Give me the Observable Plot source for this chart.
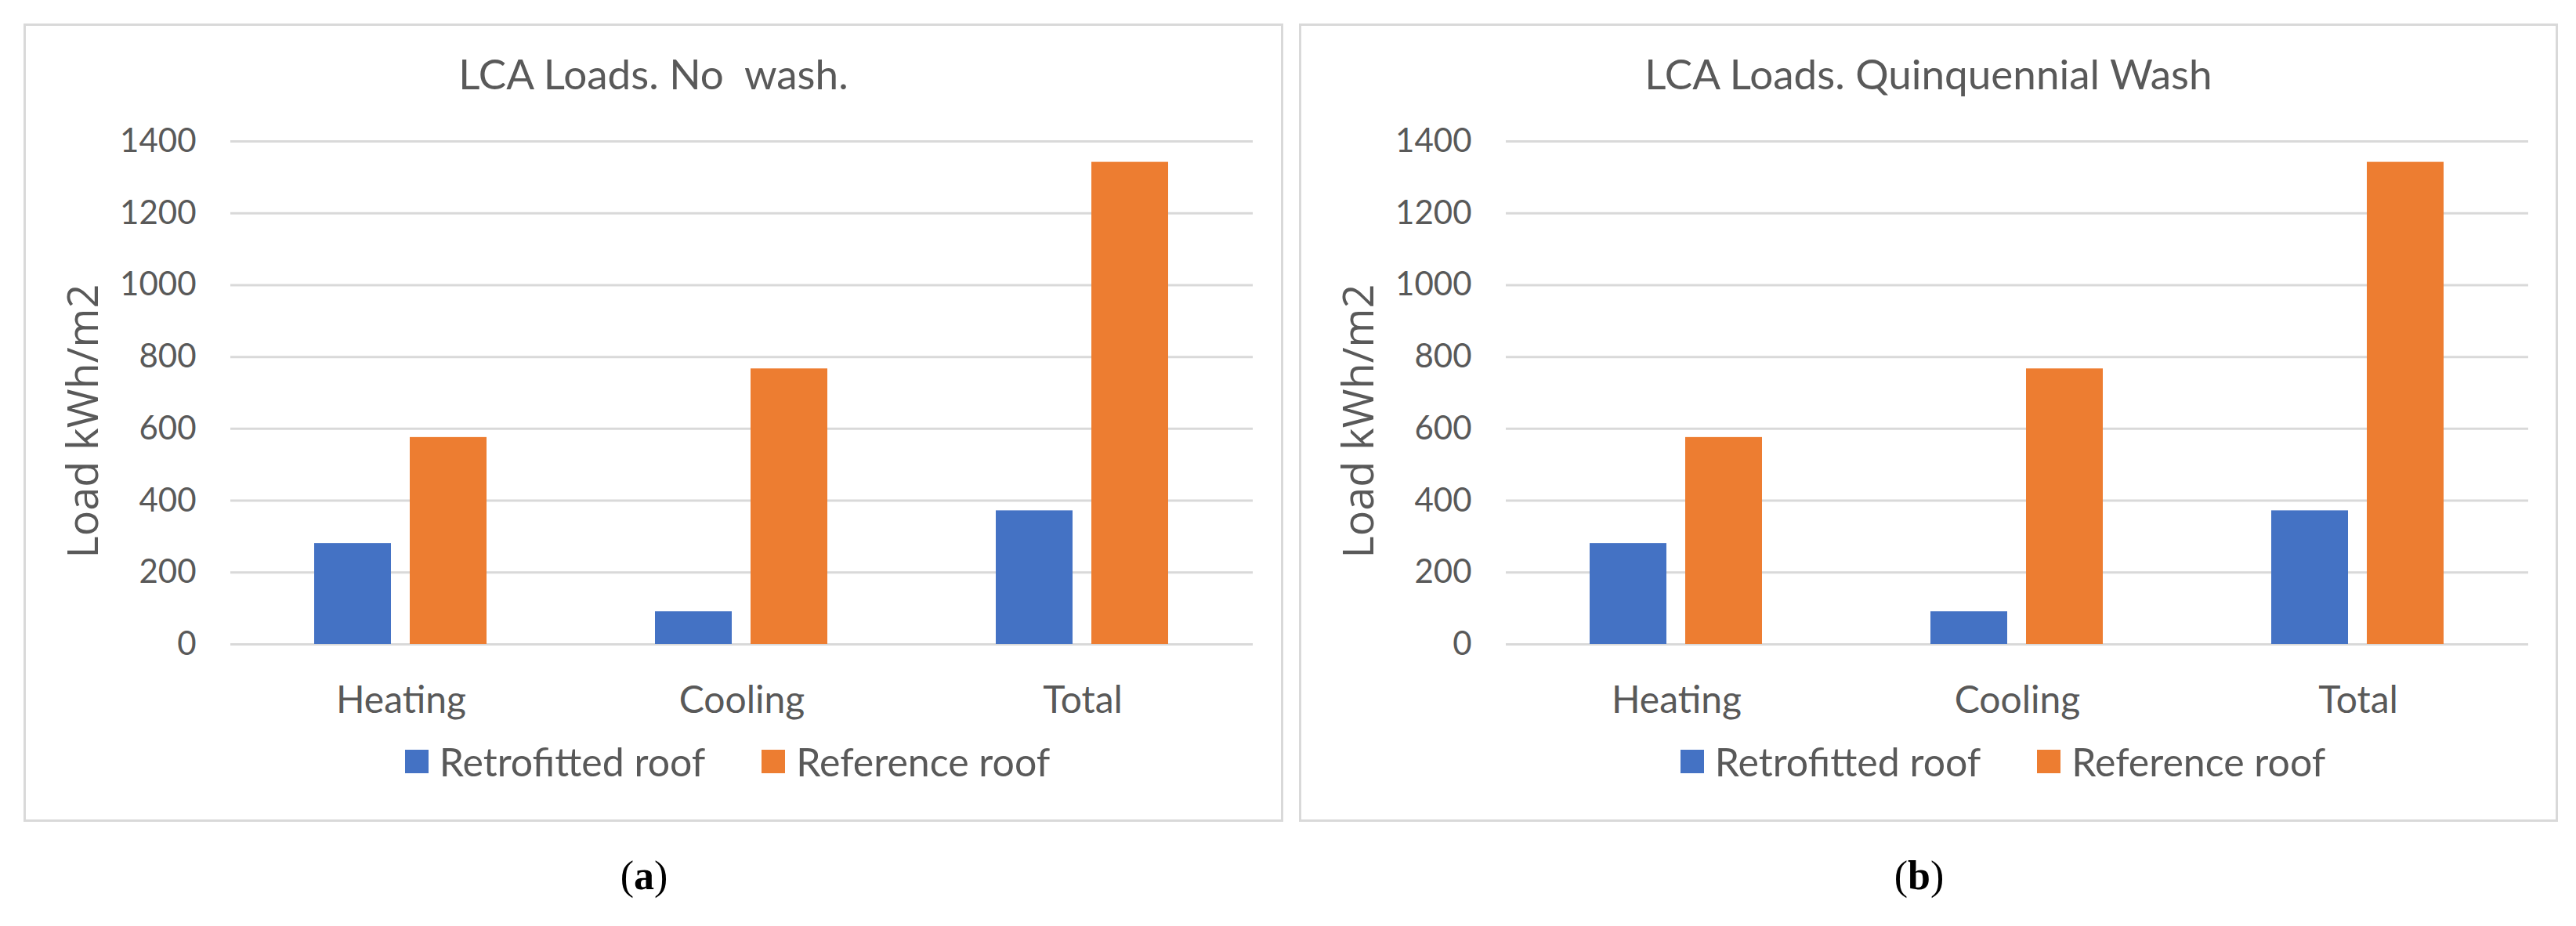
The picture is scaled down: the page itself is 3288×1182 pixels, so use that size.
<!DOCTYPE html>
<html><head><meta charset="utf-8">
<script src="https://cdn.jsdelivr.net/npm/d3@7"></script>
<script src="https://cdn.jsdelivr.net/npm/@observablehq/plot@0.6"></script>
<style>
html,body{margin:0;padding:0;background:#fff;width:3288px;height:1182px;overflow:hidden;position:relative}
.panel{position:absolute;top:30px;height:1019px;box-sizing:border-box;border:3px solid #d9d9d9;background:#fff}
.title{position:absolute;text-align:center;font-family:Lato;font-size:53px;line-height:53px;color:#595959;white-space:pre}
.chart{position:absolute;top:130px}
.legend{position:absolute;top:948px;height:48px;display:flex;justify-content:center;align-items:center;font-family:Lato;font-size:50px;color:#595959;white-space:nowrap}
.legend .item{display:flex;align-items:center;margin:0 36px}
.legend .sw{width:30px;height:30px;margin-right:14px}
.caption{position:absolute;top:1092px;text-align:center;font-family:"Liberation Serif";font-size:52px;line-height:52px;color:#000}
</style></head><body>
<script>
const categories = ["Heating", "Cooling", "Total"];
const seriesNames = ["Retrofitted roof", "Reference roof"];
const seriesColors = ["#4472c4", "#ed7d31"];
const yTicks = [0, 200, 400, 600, 800, 1000, 1200, 1400];
const yLabel = "Load kWh/m2";
const titles = ["LCA Loads. No  wash.", "LCA Loads. Quinquennial Wash"];
const captions = ["a", "b"];
// panel (a): no wash
const retrofittedNoWash = [281, 91, 372];
const referenceNoWash = [576, 767, 1342];
// panel (b): quinquennial wash
const retrofittedQuinq = [281, 91, 372];
const referenceQuinq = [576, 767, 1342];

function makeChart(retro, ref) {
  const data = [];
  categories.forEach((c, i) => {
    data.push({category: c, series: seriesNames[0], value: retro[i]});
    data.push({category: c, series: seriesNames[1], value: ref[i]});
  });
  const svg = Plot.plot({
    width: 1606, height: 800,
    marginLeft: 262, marginRight: 37, marginTop: 50, marginBottom: 108,
    style: {fontFamily: "Lato", color: "#595959", background: "transparent", overflow: "visible"},
    fx: {domain: categories, padding: 0, label: null},
    x: {domain: seriesNames, paddingInner: 0.195, paddingOuter: 0.87, axis: null},
    y: {domain: [0, 1400], label: null},
    color: {domain: seriesNames, range: seriesColors},
    marks: [
      Plot.gridY(yTicks, {stroke: "#d9d9d9", strokeOpacity: 1, strokeWidth: 3}),
      Plot.barY(data, {fx: "category", x: "series", y: "value", fill: "series", inset: 0}),
      Plot.axisY(yTicks, {tickSize: 0, tickPadding: 44, fontSize: 42, tickFormat: d => String(d), label: null}),
      Plot.axisY([], {label: yLabel, labelArrow: "none", labelAnchor: "center", labelOffset: 208, fontSize: 54, fontFamily: "Open Sans", tickSize: 0}),
      Plot.axisFx({anchor: "bottom", tickSize: 0, tickPadding: 53, fontSize: 48, label: null})
    ]
  });
  // the reference's axis title sits slightly below the frame centre
  const lab = svg.querySelector('g[aria-label="y-axis label"]');
  if (lab) lab.setAttribute("transform", ((lab.getAttribute("transform") || "") + " translate(0,36)").trim());
  return svg;
}

const panels = [
  {left: 30, width: 1608, retro: retrofittedNoWash, ref: referenceNoWash},
  {left: 1658, width: 1607, retro: retrofittedQuinq, ref: referenceQuinq}
];
panels.forEach((p, k) => {
  const box = document.createElement("div");
  box.className = "panel";
  box.style.left = p.left + "px";
  box.style.width = p.width + "px";
  document.body.appendChild(box);

  const t = document.createElement("div");
  t.className = "title";
  t.style.left = p.left + "px"; t.style.width = p.width + "px"; t.style.top = "67px";
  t.textContent = titles[k];
  document.body.appendChild(t);

  const c = document.createElement("div");
  c.className = "chart";
  c.style.left = (p.left + 1) + "px";
  c.appendChild(makeChart(p.retro, p.ref));
  document.body.appendChild(c);

  const lg = document.createElement("div");
  lg.className = "legend";
  lg.style.left = (p.left + 1 + 262 - 18) + "px"; lg.style.width = "1307px";
  seriesNames.forEach((s, j) => {
    const it = document.createElement("div"); it.className = "item";
    const sw = document.createElement("div"); sw.className = "sw"; sw.style.background = seriesColors[j];
    const tx = document.createElement("span"); tx.textContent = s;
    it.appendChild(sw); it.appendChild(tx); lg.appendChild(it);
  });
  document.body.appendChild(lg);

  const cap = document.createElement("div");
  cap.className = "caption";
  cap.style.left = (p.left - 12) + "px"; cap.style.width = p.width + "px";
  cap.innerHTML = "(<b>" + captions[k] + "</b>)";
  document.body.appendChild(cap);
});
</script>
</body></html>
